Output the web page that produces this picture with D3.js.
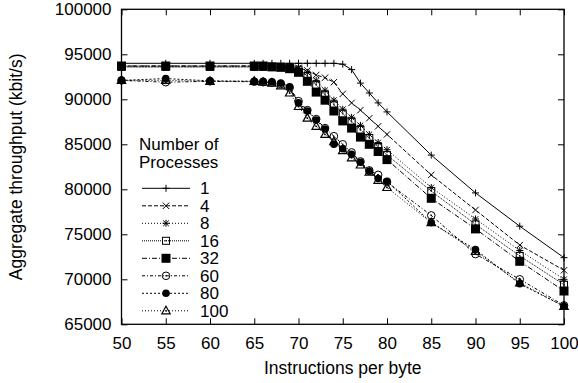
<!DOCTYPE html>
<html>
<head>
<meta charset="utf-8">
<script src="https://cdn.jsdelivr.net/npm/d3@7"></script>
<style>
  body { margin: 0; background: #fff; }
  svg { display: block; font-family: "Liberation Sans", Arial, Helvetica, sans-serif; }
  .tick text { font-size: 17px; fill: #000; }
</style>
</head>
<body>
<div id="chart"></div>
<script>
// x values (instructions per byte)
const instr = [50, 55, 60, 65, 66, 67, 68, 69, 70, 71, 72, 73, 74, 75, 76, 77, 78, 79, 80, 85, 90, 95, 100];

// aggregate throughput (kbit/s) per number of processes
const p1   = [94000, 94000, 94000, 94000, 94000, 94000, 94000, 94000, 94000, 94000, 94000, 94000, 94000, 93900, 93300, 91800, 90700, 89600, 88600, 83800, 79600, 75900, 72400];
const p4   = [93700, 93700, 93700, 93700, 93700, 93700, 93700, 93600, 93500, 93200, 92700, 92400, 91900, 90600, 89600, 88800, 87900, 87000, 86100, 81600, 77700, 73800, 71000];
const p8   = [93600, 93600, 93600, 93600, 93600, 93600, 93600, 93500, 93400, 93000, 92100, 91000, 89900, 88900, 88000, 87100, 86100, 85200, 84400, 80200, 76700, 73200, 70000];
const p16  = [93600, 93600, 93600, 93600, 93600, 93600, 93600, 93500, 93300, 92600, 91600, 90500, 89400, 88400, 87500, 86600, 85700, 84700, 83800, 79800, 76100, 72600, 69400];
const p32  = [93700, 93700, 93700, 93700, 93700, 93600, 93550, 93400, 93000, 92000, 90800, 89900, 88700, 87600, 86800, 85800, 85000, 84200, 83300, 79000, 75600, 72000, 68700];
const p60  = [92100, 91900, 92000, 91950, 91900, 91850, 91700, 91300, 89800, 88800, 87800, 86800, 85900, 85000, 84100, 83100, 82100, 81600, 80800, 77100, 72800, 70000, 67100];
const p80  = [92100, 92300, 92050, 92000, 92000, 91950, 91800, 91400, 89600, 88700, 87700, 86700, 85000, 84500, 83900, 83000, 82000, 81200, 80900, 76300, 73300, 69500, 67000];
const p100 = [92100, 92100, 92000, 92000, 91900, 91800, 91500, 90700, 89200, 87900, 87000, 86100, 85300, 84300, 83500, 82700, 81900, 81000, 80200, 76300, 73100, 69600, 67000];

const seriesNames = ['1', '4', '8', '16', '32', '60', '80', '100'];
const seriesVals = [p1, p4, p8, p16, p32, p60, p80, p100];

const xTicks = [50, 55, 60, 65, 70, 75, 80, 85, 90, 95, 100];
const yTicks = [65000, 70000, 75000, 80000, 85000, 90000, 95000, 100000];

// gnuplot-ish line/point styles
const dashes = [null, '4,2', '1,2', '1,1', '5,2,1,2', '3,2,1,2', '2,2', '1,2'];
const points = ['plus', 'cross', 'star', 'box', 'boxF', 'circle', 'circleF', 'tri'];

const W = 578, H = 383;
const margin = { top: 9.3, right: 14, bottom: 58.7, left: 121.5 };

const svg = d3.select('#chart').append('svg')
  .attr('width', W)
  .attr('height', H);

const x = d3.scaleLinear().domain([50, 100]).range([margin.left, W - margin.right]);
const y = d3.scaleLinear().domain([65000, 100000]).range([H - margin.bottom, margin.top]);

const x0 = x.range()[0], x1 = x.range()[1];
const y0 = y.range()[0], y1 = y.range()[1];

// Axes with inward ticks on all four sides
const tick = 6;
svg.append('g')
  .attr('transform', `translate(0,${y0})`)
  .call(d3.axisBottom(x).tickValues(xTicks).tickSizeInner(-tick).tickSizeOuter(0).tickPadding(12.5))
  .call(g => g.select('.domain').remove());

svg.append('g')
  .attr('transform', `translate(0,${y1})`)
  .call(d3.axisTop(x).tickValues(xTicks).tickSizeInner(-tick).tickSizeOuter(0).tickFormat(''))
  .call(g => g.select('.domain').remove());

svg.append('g')
  .attr('transform', `translate(${x0},0)`)
  .call(d3.axisLeft(y).tickValues(yTicks).tickSizeInner(-tick).tickSizeOuter(0).tickPadding(10).tickFormat(d3.format('d')))
  .call(g => g.select('.domain').remove());

svg.append('g')
  .attr('transform', `translate(${x1},0)`)
  .call(d3.axisRight(y).tickValues(yTicks).tickSizeInner(-tick).tickSizeOuter(0).tickFormat(''))
  .call(g => g.select('.domain').remove());

svg.selectAll('.tick line').attr('stroke', '#000');

svg.append('rect')
  .attr('x', x0).attr('y', y1)
  .attr('width', x1 - x0).attr('height', y0 - y1)
  .attr('fill', 'none').attr('stroke', '#000').attr('stroke-width', 1.3);

// axis titles
svg.append('text')
  .attr('x', (x0 + x1) / 2).attr('y', 374)
  .attr('text-anchor', 'middle')
  .style('font-size', '17.5px')
  .text('Instructions per byte');

svg.append('text')
  .attr('transform', `translate(22,${(y0 + y1) / 2}) rotate(-90)`)
  .attr('text-anchor', 'middle')
  .style('font-size', '17.5px')
  .text('Aggregate throughput (kbit/s)');

// marker drawing
function drawPoint(g, type) {
  const s = 3.5;
  const st = { stroke: '#000', 'stroke-width': 1, fill: 'none' };
  const add = (tag, attrs) => {
    const el = g.append(tag);
    Object.entries(attrs).forEach(([k, v]) => el.attr(k, v));
    return el;
  };
  if (type === 'plus' || type === 'star') {
    add('path', { d: `M${-s},0H${s}M0,${-s}V${s}`, ...st });
  }
  if (type === 'cross' || type === 'star') {
    const c = type === 'star' ? 2.8 : 3.2;
    add('path', { d: `M${-c},${-c}L${c},${c}M${-c},${c}L${c},${-c}`, ...st });
  }
  if (type === 'box') {
    add('rect', { x: -s, y: -s, width: 2 * s, height: 2 * s, ...st });
    add('circle', { r: 0.8, fill: '#000' });
  }
  if (type === 'boxF') {
    add('rect', { x: -4.5, y: -4.5, width: 9, height: 9, fill: '#000' });
  }
  if (type === 'circle') {
    add('circle', { r: 3.8, ...st });
    add('circle', { r: 0.8, fill: '#000' });
  }
  if (type === 'circleF') {
    add('circle', { r: 3.8, fill: '#000' });
  }
  if (type === 'tri') {
    add('path', { d: 'M0,-4.5L4.2,3L-4.2,3Z', ...st, 'stroke-width': 1.2 });
    add('circle', { r: 0.9, fill: '#000' });
  }
}

const line = d3.line()
  .x(d => x(d[0]))
  .y(d => y(d[1]));

const plot = svg.append('g');

seriesVals.forEach((vals, i) => {
  const pts = instr.map((v, j) => [v, vals[j]]);
  plot.append('path')
    .datum(pts)
    .attr('fill', 'none')
    .attr('stroke', '#000')
    .attr('stroke-width', 1)
    .attr('stroke-dasharray', dashes[i])
    .attr('d', line);
  pts.forEach(p => {
    const g = plot.append('g').attr('transform', `translate(${x(p[0])},${y(p[1])})`);
    drawPoint(g, points[i]);
  });
});

// legend
const legend = svg.append('g');
legend.append('text').attr('x', 139).attr('y', 150).style('font-size', '17px').text('Number of');
legend.append('text').attr('x', 139).attr('y', 168).style('font-size', '17px').text('Processes');

seriesNames.forEach((name, i) => {
  const ly = 188.3 + i * 17.5;
  legend.append('line')
    .attr('x1', 142).attr('x2', 190)
    .attr('y1', ly).attr('y2', ly)
    .attr('stroke', '#000')
    .attr('stroke-width', 1)
    .attr('stroke-dasharray', dashes[i]);
  const g = legend.append('g').attr('transform', `translate(166,${ly})`);
  drawPoint(g, points[i]);
  legend.append('text')
    .attr('x', 200).attr('y', ly + 6)
    .style('font-size', '17px')
    .text(name);
});
</script>
</body>
</html>
